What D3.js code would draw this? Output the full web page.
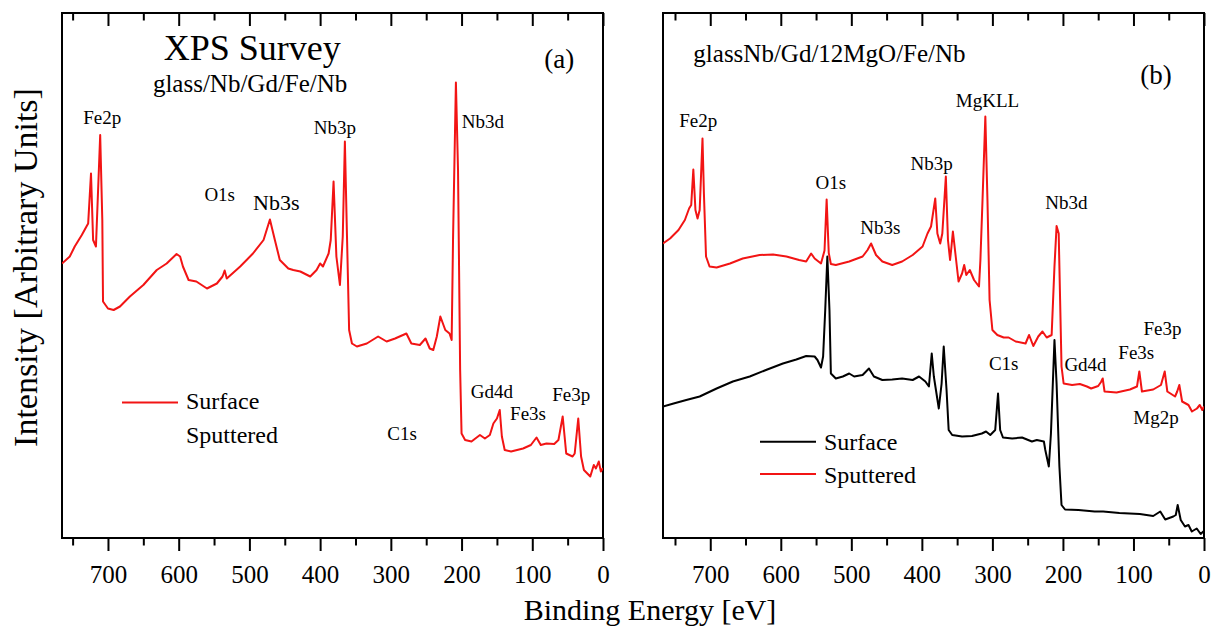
<!DOCTYPE html>
<html><head><meta charset="utf-8">
<script src="https://cdn.jsdelivr.net/npm/d3@7"></script>
<style>
body{margin:0;background:#fff}
svg{display:block}
text{font-family:"Liberation Serif","Times New Roman",serif;fill:#000}
</style>
</head><body>
<svg id="c" width="1212" height="634"></svg>
<script>
// ---------- DATA (binding energy eV, intensity arb. units) ----------
const surfaceA = [[765,54.9],[754,56.3],[747,58.3],[737,60.6],[730,62.4],[728,62.9],[724,72.9],[721,59.6],[717,58.3],[711,80.6],[708,63.6],[707,47.3],[700,45.9],[692,45.6],[683,46.3],[669,48.3],[650,50.6],[631,53.6],[617,54.9],[603,56.8],[598,56.3],[594,54.3],[586,51.6],[575,51.3],[560,49.9],[546,50.9],[538,52.3],[535,53.5],[532,51.9],[513,54.3],[495,56.9],[480,59.6],[471,63.7],[464,59.6],[457,55.6],[445,53.9],[438,53.6],[428,53.3],[414,52.3],[405,53.6],[400,54.9],[396,54.3],[388,56.9],[385,59.6],[381,71.3],[377,56.3],[372,50.6],[368,60.3],[365,79.3],[362,60.3],[359,41.6],[355,38.9],[348,38.3],[334,38.9],[318,40.3],[306,39.3],[294,39.9],[278,40.9],[271,38.9],[259,38.6],[251,39.9],[245,37.9],[240,37.6],[235,40.3],[230,44.3],[223,41.6],[217,40.9],[214,39.6],[212,60.3],[208,91.1],[205,73.6],[202,33.6],[200,20.9],[195,19.6],[186,19.3],[174,20.6],[167,19.9],[160,20.6],[155,22.9],[150,23.9],[146,25.6],[143,20.3],[139,17.6],[130,17.3],[113,17.9],[102,18.6],[94,20.1],[88,18.6],[80,18.9],[69,18.8],[63,19.6],[57,24.3],[52,16.9],[43,16.3],[40,16.9],[35,23.9],[31,16.3],[27,13.6],[18,12.3],[13,14.6],[10,13.9],[6,15.3],[3,13.3],[0,14.0]];

const surfaceB = [[767,26.3],[752,26.9],[734,27.6],[715,28.3],[691,29.9],[668,31.3],[644,32.3],[621,33.6],[597,34.9],[578,35.7],[564,36.4],[552,36.3],[548,35.6],[543,34.1],[540,36.3],[537,45.6],[534,56.3],[531,45.6],[529,32.9],[522,31.9],[512,32.3],[503,32.9],[496,32.3],[484,32.6],[475,33.9],[468,32.3],[456,31.6],[442,31.7],[428,31.9],[413,31.6],[404,32.3],[395,31.3],[390,30.3],[386,36.9],[383,32.3],[376,25.9],[372,30.9],[369,38.3],[365,29.6],[362,21.6],[357,20.6],[343,20.3],[329,20.4],[315,20.9],[309,21.3],[303,20.6],[296,21.6],[292,28.9],[289,21.6],[285,20.1],[272,19.9],[258,20.1],[244,19.3],[237,19.6],[227,19.3],[225,17.6],[220,14.3],[217,20.9],[212,39.6],[209,30.9],[205,14.3],[202,6.6],[197,5.7],[178,5.6],[155,5.3],[143,5.3],[120,5.0],[91,4.8],[72,4.4],[62,5.3],[55,3.7],[43.5,4.3],[40,4.6],[37.3,6.6],[33,3.6],[27,2.3],[22,2.6],[17.4,1.3],[10.3,1.9],[4.7,0.8],[1,1.3],[0,1.0]];

const sputteredB = [[767,58.9],[757,59.9],[745,61.6],[736,63.6],[730,65.9],[727,66.6],[724,73.7],[721,65.6],[718,63.9],[715,65.6],[711,79.9],[709,68.9],[706,56.3],[701,54.3],[691,54.1],[672,54.9],[654,55.9],[630,56.6],[611,56.7],[592,56.3],[574,55.6],[564,55.3],[557,56.9],[552,55.9],[543,54.9],[538,57.5],[535,67.7],[532,57.0],[529,54.8],[522,54.6],[503,55.3],[484,56.3],[477,57.6],[472,58.9],[465,56.6],[456,55.3],[442,54.6],[428,55.3],[413,56.6],[399,58.3],[392,60.9],[387,62.3],[381,67.9],[378,60.9],[374,58.9],[371,60.9],[366,72.3],[363,59.6],[360,55.6],[358,58.3],[356,61.3],[352,56.3],[348,51.3],[343,52.9],[340,54.6],[337,52.6],[332,53.6],[326,51.6],[319,50.3],[317,55.6],[314,67.6],[310,84.3],[307,67.6],[304,47.6],[300,41.6],[293,40.6],[284,40.1],[277,40.1],[267,39.3],[253,38.9],[248,40.6],[242,38.4],[235,40.3],[229,41.3],[223,40.1],[216,40.6],[212,54.3],[209,62.4],[206,60.9],[204,47.6],[202,34.3],[199,30.9],[187,30.6],[176,30.8],[166,30.3],[160,29.9],[150,30.4],[146,31.2],[143.6,31.9],[141,29.3],[124,29.1],[105,29.7],[95,30.3],[91.7,33.3],[88,29.3],[72,29.7],[61,30.6],[55.7,33.3],[52,29.3],[41,28.3],[38,29.3],[35,30.6],[31,27.3],[22,26.6],[17,25.3],[10,25.9],[6,26.6],[2.4,25.6],[0,26.3]];

const majorTicks = [700,600,500,400,300,200,100,0];
const minorTicks = [750,650,550,450,350,250,150,50];

// peak annotations in data coordinates [label, eV, intensity]
const peakLabelsA = [["Fe2p",708,82.8],["O1s",542,67.4],["Nb3s",462,65.6],["Nb3p",379,80.9],["Nb3d",170,82.1],["Gd4d",157,28.1],["Fe3s",106,23.7],["Fe3p",45,27.5],["C1s",284,19.6]];
const peakLabelsB = [["Fe2p",717,82.2],["O1s",529,69.9],["Nb3s",459,60.9],["Nb3p",386,73.6],["MgKLL",307,86.3],["Nb3d",195,65.9],["C1s",284,33.6],["Gd4d",168,33.5],["Fe3s",96,35.9],["Fe3p",59,40.6],["Mg2p",68,22.9]];
const legendNames = ["Surface","Sputtered"];

// ---------- DRAW ----------
const svg = d3.select("#c");
const y = d3.scaleLinear().domain([0,105]).range([538,13]);
const xA = d3.scaleLinear().domain([765,0]).range([62,603]);
const xB = d3.scaleLinear().domain([767,0]).range([663,1204]);
const RED = "#f21414";

function panel(x, id){
  const g = svg.append("g");
  const [x0,x1] = x.range();
  svg.append("clipPath").attr("id",id).append("rect")
    .attr("x",x0).attr("y",y.range()[1]).attr("width",x1-x0).attr("height",y.range()[0]-y.range()[1]);
  const styleAxis = a => { a.select(".domain").remove(); a.selectAll("line").attr("stroke","#000").attr("stroke-width",2); };
  const bot = g.append("g").attr("transform",`translate(0,${y.range()[0]})`)
    .call(d3.axisBottom(x).tickValues(majorTicks).tickSize(13).tickPadding(14).tickFormat(d3.format("d")));
  styleAxis(bot);
  bot.selectAll("text").attr("font-family",'"Liberation Serif",serif').attr("font-size",25).attr("fill","#000");
  bot.attr("font-family",null).attr("font-size",null);
  styleAxis(g.append("g").attr("transform",`translate(0,${y.range()[0]})`)
    .call(d3.axisBottom(x).tickValues(minorTicks).tickSize(7.5).tickFormat("")));
  styleAxis(g.append("g").attr("transform",`translate(0,${y.range()[1]})`)
    .call(d3.axisTop(x).tickValues(majorTicks).tickSize(-13).tickFormat("")));
  styleAxis(g.append("g").attr("transform",`translate(0,${y.range()[1]})`)
    .call(d3.axisTop(x).tickValues(minorTicks).tickSize(-7.5).tickFormat("")));
  g.append("rect").attr("x",x0).attr("y",y.range()[1]).attr("width",x1-x0).attr("height",y.range()[0]-y.range()[1])
    .attr("fill","none").attr("stroke","#000").attr("stroke-width",2);
  return g;
}
function curve(g, x, data, color, clip){
  const line = d3.line().x(d=>x(d[0])).y(d=>y(d[1])).curve(d3.curveLinear);
  g.append("path").datum(data).attr("d",line).attr("fill","none").attr("stroke",color)
    .attr("stroke-width",2).attr("stroke-linejoin","round").attr("clip-path",`url(#${clip})`);
}
function labels(g, x, arr, big){
  g.selectAll(null).data(arr).enter().append("text")
    .attr("x",d=>x(d[1])).attr("y",d=>y(d[2])).attr("text-anchor","middle")
    .attr("font-size",d=>big && d[0]===big ? 22 : 19).text(d=>d[0]);
}
function txt(g, x, e, v, s, size){
  g.append("text").attr("x",x(e)).attr("y",y(v)).attr("text-anchor","middle").attr("font-size",size).text(s);
}

// Panel (a)
const gA = panel(xA,"clipA");
curve(gA, xA, surfaceA, RED, "clipA");
labels(gA, xA, peakLabelsA, "Nb3s");
txt(gA, xA, 496, 95.7, "XPS Survey", 36);
txt(gA, xA, 499, 89.3, "glass/Nb/Gd/Fe/Nb", 25);
txt(gA, xA, 62, 94, "(a)", 27);
const lA = xA.range()[0];
gA.append("line").attr("x1",lA+60).attr("x2",lA+116).attr("y1",402.5).attr("y2",402.5).attr("stroke",RED).attr("stroke-width",2);
gA.append("text").attr("x",lA+124).attr("y",408.5).attr("font-size",24).text(legendNames[0]);
gA.append("text").attr("x",lA+124).attr("y",443).attr("font-size",24).text(legendNames[1]);

// Panel (b)
const gB = panel(xB,"clipB");
curve(gB, xB, surfaceB, "#000", "clipB");
curve(gB, xB, sputteredB, RED, "clipB");
labels(gB, xB, peakLabelsB, null);
txt(gB, xB, 531, 95.3, "glassNb/Gd/12MgO/Fe/Nb", 25);
txt(gB, xB, 68, 90.9, "(b)", 27);
const lB = xB.range()[0];
[["#000",441.7,449.5],[RED,474,483]].forEach((s,i)=>{
  gB.append("line").attr("x1",lB+97).attr("x2",lB+153).attr("y1",s[1]).attr("y2",s[1]).attr("stroke",s[0]).attr("stroke-width",2);
  gB.append("text").attr("x",lB+161).attr("y",s[2]).attr("font-size",24).text(legendNames[i]);
});

// Axis titles
svg.append("text").attr("x",650).attr("y",620).attr("text-anchor","middle").attr("font-size",30).text("Binding Energy [eV]");
svg.append("text").attr("transform","translate(37,267.5) rotate(-90)").attr("text-anchor","middle").attr("font-size",34).text("Intensity [Arbitrary Units]");
</script>
</body></html>
